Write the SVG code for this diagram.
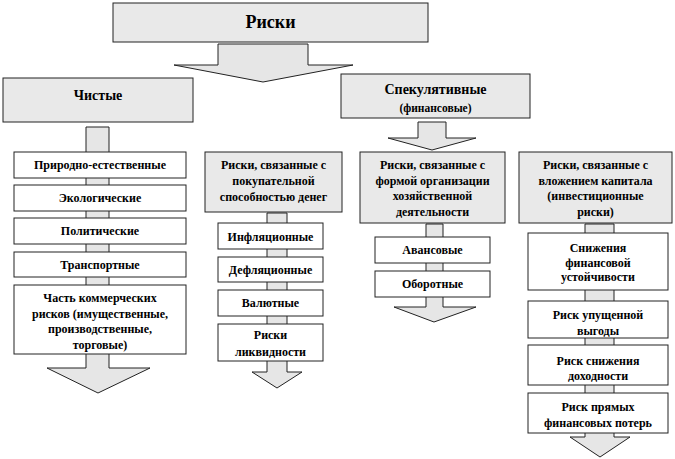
<svg xmlns="http://www.w3.org/2000/svg" width="675" height="459" viewBox="0 0 675 459">
<style>
.g{fill:#e9e9e9;stroke:#222;stroke-width:1}
.w{fill:#fff;stroke:#222;stroke-width:1}
.a{fill:#e6e6e6;stroke:#222;stroke-width:1}
text{font-family:'Liberation Serif','Times New Roman',Times,serif;font-weight:bold;fill:#000;text-anchor:middle;font-size:12px}
.big{font-size:18px}
.mid{font-size:14px}
.sm{font-size:11.5px}
</style>
<rect width="675" height="459" fill="#fff"/>
<g id="connectors">
<polygon class="a" points="218,44 308,44 308,65 353,65 263,82 174,65 218,65"/>
<polygon class="a" points="418,122 446,122 446,138 476,138 432,150 388,138 418,138"/>
<polygon class="a" points="86,127 109,127 109,368 150,368 98,393 47,368 86,368"/>
<polygon class="a" points="267,213 287,213 287,372 302,372 277,388 252,372 267,372"/>
<polygon class="a" points="426,224 443,224 443,307 476,307 434,322 394,307 426,307"/>
<polygon class="a" points="585,224 614,224 614,437 630,437 600,457 570,437 585,437"/>
</g>
<g font-family="Liberation Serif, serif">
<g id="risks"><rect class="g" x="113" y="3" width="315" height="39"/><text class="big" x="270.5" y="28">Риски</text></g>
<g id="pure"><rect class="g" x="3" y="78" width="190" height="44"/><text class="mid" x="98" y="100">Чистые</text></g>
<g id="spec"><rect class="g" x="341" y="74" width="189" height="44"/><text class="mid" x="435.5" y="94">Спекулятивные</text><text class="sm" x="435.5" y="112">(финансовые)</text></g>
<g id="p1"><rect class="w" x="14" y="152" width="172" height="26"/><text x="100" y="169">Природно-естественные</text></g>
<g id="p2"><rect class="w" x="14" y="185" width="172" height="26"/><text x="100" y="202">Экологические</text></g>
<g id="p3"><rect class="w" x="14" y="218" width="172" height="26"/><text x="100" y="235">Политические</text></g>
<g id="p4"><rect class="w" x="14" y="252" width="172" height="25"/><text x="100" y="269">Транспортные</text></g>
<g id="p5"><rect class="w" x="14" y="285" width="172" height="69"/><text x="100" y="302">Часть коммерческих</text><text x="100" y="318">рисков (имущественные,</text><text x="100" y="333">производственные,</text><text x="100" y="349">торговые)</text></g>
<g id="money"><rect class="g" x="205" y="152" width="137" height="60"/><text x="273.5" y="169">Риски, связанные с</text><text x="273.5" y="185">покупательной</text><text x="273.5" y="201">способностью денег</text></g>
<g id="m1"><rect class="w" x="218" y="223" width="105" height="26"/><text x="270.5" y="241">Инфляционные</text></g>
<g id="m2"><rect class="w" x="218" y="257" width="105" height="25"/><text x="270.5" y="274">Дефляционные</text></g>
<g id="m3"><rect class="w" x="218" y="290" width="105" height="26"/><text x="270.5" y="307">Валютные</text></g>
<g id="m4"><rect class="w" x="218" y="324" width="105" height="37"/><text x="270.5" y="339">Риски</text><text x="270.5" y="356">ликвидности</text></g>
<g id="org"><rect class="g" x="360" y="152" width="145" height="71"/><text x="432.5" y="169">Риски, связанные с</text><text x="432.5" y="184.5">формой организации</text><text x="432.5" y="200">хозяйственной</text><text x="432.5" y="215.5">деятельности</text></g>
<g id="o1"><rect class="w" x="375" y="237" width="115" height="26"/><text x="432.5" y="254">Авансовые</text></g>
<g id="o2"><rect class="w" x="375" y="271" width="115" height="26"/><text x="432.5" y="288">Оборотные</text></g>
<g id="inv"><rect class="g" x="519" y="152" width="153" height="71"/><text x="595.5" y="169">Риски, связанные с</text><text x="595.5" y="184.5">вложением капитала</text><text x="595.5" y="200">(инвестиционные</text><text x="595.5" y="215.5">риски)</text></g>
<g id="i1"><rect class="w" x="528" y="233" width="140" height="57"/><text x="598" y="252">Снижения</text><text x="598" y="267">финансовой</text><text x="598" y="281">устойчивости</text></g>
<g id="i2"><rect class="w" x="528" y="301" width="140" height="37"/><text x="598" y="319">Риск упущенной</text><text x="598" y="335">выгоды</text></g>
<g id="i3"><rect class="w" x="528" y="345" width="140" height="40"/><text x="598" y="365">Риск снижения</text><text x="598" y="380">доходности</text></g>
<g id="i4"><rect class="w" x="528" y="393" width="140" height="40"/><text x="598" y="411">Риск прямых</text><text x="598" y="427">финансовых потерь</text></g>
</g>
</svg>
